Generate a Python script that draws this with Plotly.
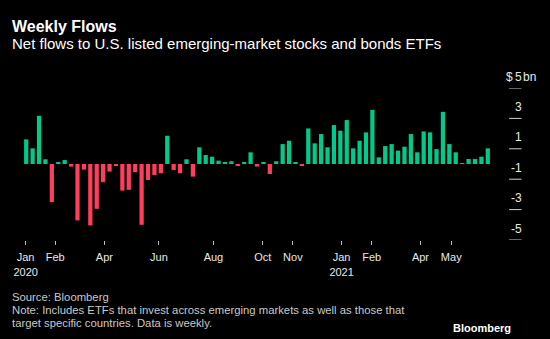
import numpy as np
import plotly.graph_objects as go

# Weekly net flows, $bn, Jan 2020 - May 2021
flows = [
    1.62, 1.03, 3.17, 0.31, -2.51, 0.11, 0.26, -0.17, -3.71, -0.37,
    -4.04, -2.95, -1.20, -0.50, -0.13, -1.75, -1.70, -0.54, -4.00, -1.05,
    -0.72, -0.61, 1.86, -0.39, -0.61, 0.31, -0.83, 1.10, 0.59, 0.48,
    0.22, 0.07, 0.18, -0.13, 0.07, 0.77, -0.17, 0.11, -0.66, 0.18,
    1.31, 1.53, 0.07, -0.13, 2.34, 1.36, 1.97, 1.10, 2.56, 2.19,
    2.89, 1.03, 1.53, 2.08, 3.56, 0.44, 1.18, 1.31, 0.88, 1.14,
    1.97, 0.77, 2.14, 2.08, 0.98, 3.43, 1.31, 0.77, 0.05, 0.33,
    0.33, 0.48, 1.03,
]
week = np.arange(len(flows))

month_labels = ["Jan<br>2020", "Feb", "Apr", "Jun", "Aug", "Oct", "Nov",
                "Jan<br>2021", "Feb", "Apr", "May"]
month_pos = [-0.09, 4.52, 12.2, 20.7, 29.2, 36.9, 41.6, 49.2, 53.9, 61.5, 66.3]

y_ticks = [5, 3, 1, -1, -3, -5]

GREEN = "#00c98c"
RED = "#ff3d5d"
FONT = "Liberation Sans"
LABEL = "#e8e8e8"

colors = [GREEN if v >= 0 else RED for v in flows]

fig = go.Figure(go.Bar(
    x=week, y=flows, marker=dict(color=colors, line=dict(width=0)),
    width=0.66, hoverinfo="skip",
))

W, H = 550, 339
L, R, T, B = 23.1, 58.8, 87.7, 99.0
pw, ph = W - L - R, H - T - B


def px_x(x):
    return (x - L) / pw


def px_y(y):
    return (H - B - y) / ph


annotations = []
shapes = []


def scale_label(text, x, v, anchor):
    return dict(xref="paper", yref="y", x=px_x(x), y=v, text=text,
                showarrow=False, xanchor=anchor, yanchor="middle",
                yshift=11.5, borderpad=0,
                font=dict(family=FONT, size=12, color=LABEL))


# right-side value scale: short rules with the labels sitting above them
for v in y_ticks:
    shapes.append(dict(type="line", xref="paper", yref="y",
                       x0=px_x(509.3), x1=px_x(521.7), y0=v, y1=v,
                       line=dict(color="#d0d0d0", width=1)))
    annotations.append(scale_label(str(v), 523, v, "right"))
annotations.append(scale_label("$", 514, 5, "right"))
annotations.append(scale_label("bn", 522, 5, "left"))

# headline and deck
annotations.append(dict(xref="paper", yref="paper", x=px_x(11), y=px_y(26),
                        text="<b>Weekly Flows</b>", showarrow=False,
                        xanchor="left", yanchor="middle", borderpad=0,
                        font=dict(family=FONT, size=16, color="#ffffff")))
annotations.append(dict(xref="paper", yref="paper", x=px_x(11), y=px_y(43.5),
                        text="Net flows to U.S. listed emerging-market stocks and bonds ETFs",
                        showarrow=False, xanchor="left", yanchor="middle",
                        borderpad=0,
                        font=dict(family=FONT, size=15, color="#ffffff")))

# footnotes
foot = ["Source: Bloomberg",
        "Note: Includes ETFs that invest across emerging markets as well as those that",
        "target specific countries. Data is weekly."]
for line, yc in zip(foot, [297, 310.5, 323.5]):
    annotations.append(dict(xref="paper", yref="paper", x=px_x(11), y=px_y(yc),
                            text=line, showarrow=False, xanchor="left",
                            yanchor="middle", borderpad=0,
                            font=dict(family=FONT, size=11.3, color="#c8c8c8")))
annotations.append(dict(xref="paper", yref="paper", x=px_x(512), y=px_y(328),
                        text="<b>Bloomberg</b>", showarrow=False,
                        xanchor="right", yanchor="middle", borderpad=0,
                        font=dict(family=FONT, size=11, color="#ffffff")))

fig.update_layout(
    width=W, height=H,
    margin=dict(l=L, r=R, t=T, b=B, pad=0),
    paper_bgcolor="#000000", plot_bgcolor="#000000",
    showlegend=False,
    annotations=annotations, shapes=shapes,
    xaxis=dict(range=[-0.5, len(flows) - 0.5], tickmode="array",
               tickvals=month_pos, ticktext=month_labels,
               ticks="outside", ticklen=4, tickcolor="#bbbbbb", tickwidth=1,
               ticklabelstandoff=3,
               showgrid=False, zeroline=False, showline=False,
               tickfont=dict(family=FONT, size=11, color=LABEL)),
    yaxis=dict(range=[-5, 5], showticklabels=False, showgrid=False,
               zeroline=False, showline=False, ticks=""),
)

fig.write_html("out.html")
